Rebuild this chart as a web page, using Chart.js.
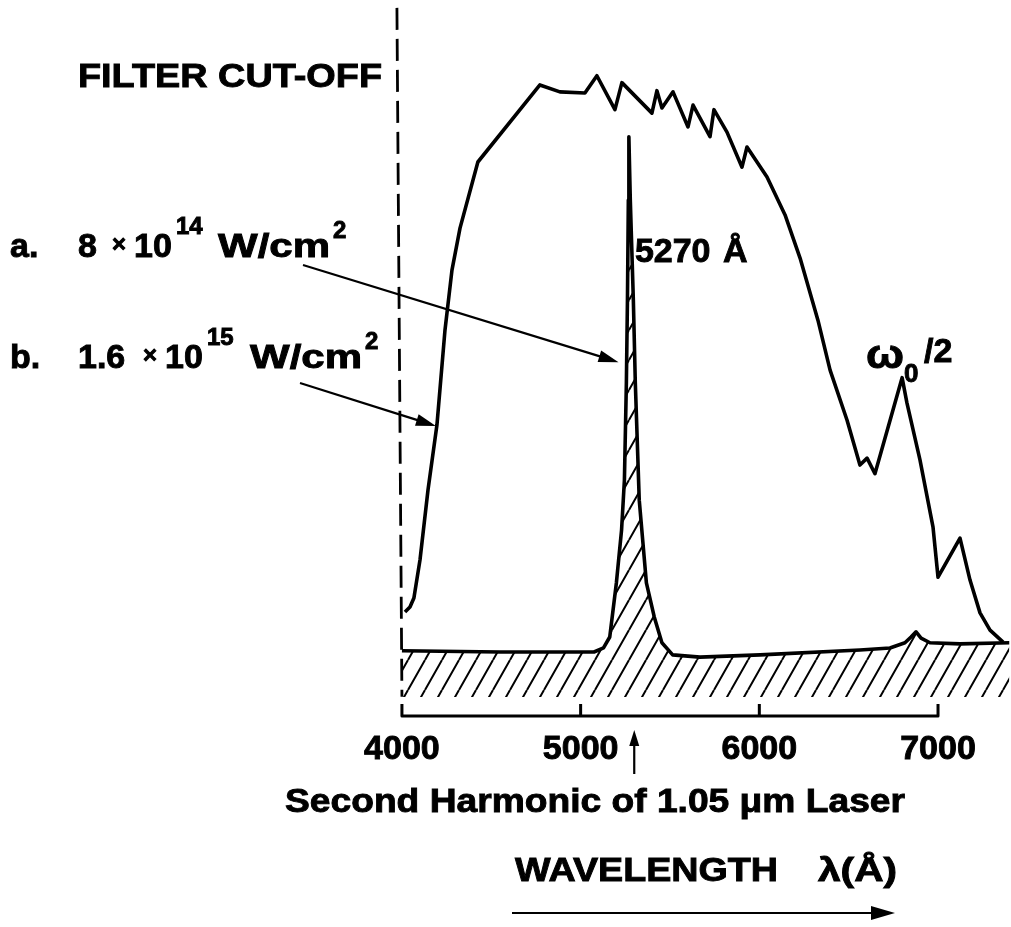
<!DOCTYPE html>
<html>
<head>
<meta charset="utf-8">
<script src="https://cdn.jsdelivr.net/npm/chart.js@4.4.1/dist/chart.umd.min.js"></script>
<style>
  html, body { margin: 0; padding: 0; background: #fff; }
  #wrap { width: 1011px; height: 927px; position: relative; }
</style>
</head>
<body>
<div id="wrap"><canvas id="spectrum"></canvas></div>
<script>
// wavelength in Angstrom, intensity in arbitrary units (broad spectrum peak ~100)
const tickValues = [4000, 5000, 6000, 7000];

// a. 8 x 10^14 W/cm^2 : narrow second-harmonic line
const wavelengthA = [4000, 4548, 5075, 5128, 5163, 5200, 5229, 5245, 5256, 5262, 5267, 5270,
  5278, 5295, 5306, 5328, 5368, 5412, 5455, 5515, 5668, 6004, 6563, 6731, 6815, 6849, 6877,
  6905, 6955, 7123, 7400];
const intensityA = [0.2, 0, 0, 0.7, 2.6, 12.0, 21.2, 29.9, 46.8, 61.2, 78.6, 89.6,
  78.6, 61.2, 46.8, 26.4, 12.0, 6.1, 1.6, -0.5, -0.9, -0.5, 0.35, 0.7, 1.6, 2.6, 3.5,
  2.4, 1.6, 1.4, 1.6];

// b. 1.6 x 10^15 W/cm^2 : broad spectrum
const wavelengthB = [4017, 4045, 4067, 4101, 4146, 4196, 4241, 4280, 4325, 4425, 4772, 4884,
  5024, 5091, 5192, 5231, 5399, 5427, 5455, 5517, 5601, 5629, 5724, 5746, 5819, 5903, 5931,
  6043, 6144, 6228, 6328, 6396, 6491, 6563, 6603, 6647, 6799, 6826, 6899, 6972, 7000, 7123,
  7179, 7235, 7291, 7364];
const intensityB = [6.96, 7.83, 9.39, 16.0, 28.2, 39.5, 56.0, 66.4, 73.7, 85.2, 98.6, 97.4,
  97.2, 100.2, 94.3, 99.0, 93.7, 97.6, 94.6, 97.4, 91.3, 95.1, 89.6, 94.3, 90.4, 84.3, 87.8,
  82.6, 76.0, 68.5, 57.7, 49.0, 40.3, 32.5, 33.7, 31.0, 47.7, 43.3, 33.4, 21.7, 13.0, 19.8,
  12.5, 6.8, 3.8, 1.7];

// filter cut-off marker
const cutoffX = [3972, 4000];
const cutoffY = [112, -7.8];

const Y_MIN = -7.83, Y_MAX = 112.5;
const FONT = '"Liberation Sans", Arial, Helvetica, sans-serif';

function pts(xs, ys) {
  return xs.map((x, i) => ({ x: x, y: ys[i] }));
}

// diagonal "/" hatching used under curve a
function makeHatch() {
  const w = 17, h = 30;
  const c = document.createElement('canvas');
  c.width = w; c.height = h;
  const g = c.getContext('2d');
  g.strokeStyle = '#000';
  g.lineWidth = 2;
  g.beginPath();
  for (const dx of [-w, 0, w]) {
    g.moveTo(dx, h);
    g.lineTo(dx + w, 0);
  }
  g.stroke();
  return g.createPattern(c, 'repeat');
}

// bold text, slightly stroked; optional target width
function txt(ctx, s, x, y, size, w) {
  ctx.font = 'bold ' + size + 'px ' + FONT;
  ctx.save();
  ctx.translate(x, y);
  if (w) ctx.scale(w / ctx.measureText(s).width, 1);
  ctx.lineWidth = 0.9;
  ctx.fillText(s, 0, 0);
  ctx.strokeText(s, 0, 0);
  ctx.restore();
}

function arrow(ctx, x1, y1, x2, y2, head, half) {
  const a = Math.atan2(y2 - y1, x2 - x1);
  ctx.beginPath();
  ctx.moveTo(x1, y1);
  ctx.lineTo(x2 - Math.cos(a) * head * 0.8, y2 - Math.sin(a) * head * 0.8);
  ctx.stroke();
  ctx.beginPath();
  ctx.moveTo(x2, y2);
  ctx.lineTo(x2 - Math.cos(a) * head - Math.sin(a) * half, y2 - Math.sin(a) * head + Math.cos(a) * half);
  ctx.lineTo(x2 - Math.cos(a) * head + Math.sin(a) * half, y2 - Math.sin(a) * head - Math.cos(a) * half);
  ctx.closePath();
  ctx.fill();
}

// axis bracket: line below the hatching with ticks pointing up
const bracket = {
  id: 'bracket',
  afterDraw(chart) {
    const { ctx, scales: { x } } = chart;
    const y0 = chart.chartArea.bottom + 19, rise = 12;
    const xs = x.ticks.map(t => x.getPixelForValue(t.value));
    ctx.save();
    ctx.strokeStyle = '#000';
    ctx.lineWidth = 3;
    ctx.lineJoin = 'round';
    ctx.beginPath();
    ctx.moveTo(xs[0], y0 - rise);
    ctx.lineTo(xs[0], y0);
    ctx.lineTo(xs[xs.length - 1], y0);
    ctx.lineTo(xs[xs.length - 1], y0 - rise);
    xs.slice(1, -1).forEach(px => { ctx.moveTo(px, y0); ctx.lineTo(px, y0 - rise); });
    ctx.stroke();
    ctx.restore();
  }
};

const labels = {
  id: 'labels',
  afterDraw(chart) {
    const { ctx, scales: { x, y } } = chart;
    ctx.save();
    ctx.fillStyle = '#000';
    ctx.strokeStyle = '#000';
    ctx.textBaseline = 'alphabetic';
    ctx.textAlign = 'left';

    txt(ctx, 'FILTER CUT-OFF', 78, 87, 34, 304);

    // a.
    txt(ctx, 'a.', 10, 257, 34);
    txt(ctx, '8', 78, 257, 34);
    txt(ctx, '×', 112, 252, 24);
    txt(ctx, '10', 134, 257, 34);
    txt(ctx, '14', 176, 234, 24);
    txt(ctx, 'W/cm', 218, 257, 34, 112);
    txt(ctx, '2', 333, 238, 24);

    // b.
    txt(ctx, 'b.', 10, 368, 34);
    txt(ctx, '1.6', 78, 368, 34);
    txt(ctx, '×', 143, 363, 24);
    txt(ctx, '10', 165, 368, 34);
    txt(ctx, '15', 207, 345, 24);
    txt(ctx, 'W/cm', 250, 368, 34, 112);
    txt(ctx, '2', 365, 349, 24);

    // line label and half-harmonic label
    const px = x.getPixelForValue(5270);
    txt(ctx, '5270', px + 6, 262, 34);
    txt(ctx, 'Å', px + 94, 262, 34);
    txt(ctx, 'ω', 866, 368, 40, 38);
    txt(ctx, '0', 904, 382, 26);
    txt(ctx, '/2', 924, 362, 34);

    // pointers
    ctx.lineWidth = 2.2;
    arrow(ctx, 303, 265, x.getPixelForValue(5212), y.getPixelForValue(50.4), 20, 6);
    arrow(ctx, 300, 383, x.getPixelForValue(4190), y.getPixelForValue(39.3), 20, 6);

    // second harmonic marker under the axis
    const hx = x.getPixelForValue(5300);
    arrow(ctx, hx, 774, hx, 730, 16, 5);
    txt(ctx, 'Second Harmonic of 1.05 μm Laser', 285, 812, 34, 620);

    txt(ctx, 'WAVELENGTH', 515, 881, 34, 263);
    txt(ctx, 'λ(Å)', 818, 881, 34, 79);
    ctx.lineWidth = 2.2;
    arrow(ctx, 512, 913, 895, 913, 24, 7);
    ctx.restore();
  }
};

const ctx = document.getElementById('spectrum').getContext('2d');

const chart = new Chart(ctx, {
  type: 'line',
  data: {
    datasets: [{
      label: 'b. 1.6 × 10^15 W/cm^2',
      data: pts(wavelengthB, intensityB),
      borderColor: '#000',
      borderWidth: 3.6,
      borderJoinStyle: 'round',
      fill: false,
      tension: 0,
      pointRadius: 0
    }, {
      label: 'a. 8 × 10^14 W/cm^2',
      data: pts(wavelengthA, intensityA),
      borderColor: '#000',
      borderWidth: 3.6,
      borderJoinStyle: 'round',
      backgroundColor: makeHatch(),
      fill: 'start',
      tension: 0,
      pointRadius: 0
    }, {
      label: 'filter cut-off',
      data: pts(cutoffX, cutoffY),
      borderColor: '#000',
      borderWidth: 2.8,
      borderDash: [22, 9],
      fill: false,
      pointRadius: 0
    }]
  },
  options: {
    responsive: true,
    maintainAspectRatio: false,
    animation: false,
    devicePixelRatio: 1,
    layout: { padding: { left: 393, right: 1.5, top: 5, bottom: 0 } },
    plugins: {
      legend: { display: false },
      tooltip: { enabled: false }
    },
    scales: {
      x: {
        type: 'linear',
        min: 3950,
        max: 7400,
        afterBuildTicks: s => { s.ticks = tickValues.map(v => ({ value: v })); },
        afterFit: s => { s.height = 230; },
        grid: { display: false, drawTicks: false },
        border: { display: false },
        ticks: {
          color: '#000',
          autoSkip: false,
          maxRotation: 0,
          padding: 32,
          textStrokeColor: '#000',
          textStrokeWidth: 0.9,
          callback: v => String(v),
          font: { family: FONT, size: 34, weight: 'bold' }
        }
      },
      y: { display: false, min: Y_MIN, max: Y_MAX }
    }
  },
  plugins: [bracket, labels]
});
</script>
</body>
</html>
